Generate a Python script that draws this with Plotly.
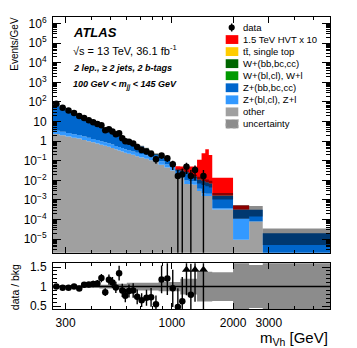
import math
import plotly.graph_objects as go

# ---------------- data ----------------
bin_edges = [260, 280, 300, 320, 340, 360, 380, 400, 420, 440, 460, 480, 500, 520, 540,
             560, 580, 600, 630, 660, 690, 730, 770, 810, 860, 920, 980, 1040, 1100,
             1150, 1210, 1270, 1330, 1400, 1460, 1520, 1580, 2000, 2400, 2800, 6000]

data_events = [1600, 1028, 737, 540, 380, 305, 231, 182, 149, 129, 72, 80, 62, 45, 51,
               28, 20, 28, 23, 15, 14, 12, 9, 6, 11, 8, 4, 1, 1, 3, 1, 2, 0, 1,
               0, 0, 0, 0, 0, 0]

# Events/GeV per bin for each background component
bkg_other = [2.3, 2.0, 1.72, 1.51, 1.36, 1.15, 1.0, 0.87, 0.76, 0.66, 0.59, 0.52, 0.45,
             0.385, 0.335, 0.295, 0.26, 0.226, 0.2, 0.172, 0.146, 0.126, 0.106, 0.089,
             0.063, 0.045, 0.032, 0.014, 0.014, 0.0065, 0.0063, 0.006, 0.0029, 0.0016,
             0.0016, 0.0016, 3.3e-4, 9.3e-6, 7.9e-5, 1e-9]
bkg_zl = [1.15, 1.0, 0.86, 0.75, 0.68, 0.57, 0.5, 0.43, 0.38, 0.33, 0.29, 0.26, 0.22,
          0.19, 0.17, 0.15, 0.13, 0.11, 0.10, 0.086, 0.073, 0.063, 0.053, 0.044, 0.032,
          0.022, 0.016, 0.007, 0.007, 0.0033, 0.0031, 0.003, 0.0008, 0.0006, 0.0005,
          0.0005, 5e-5, 1.0e-4, 1e-9, 1e-9]
bkg_zhf = [73.5, 48.1, 34.1, 23.9, 17.4, 12.4, 9.2, 7.0, 5.6, 4.19, 3.23, 2.55, 2.08,
           1.68, 1.36, 1.08, 0.89, 0.70, 0.54, 0.41, 0.31, 0.225, 0.147, 0.084, 0.058,
           0.042, 0.021, 0.0135, 0.0107, 0.017, 0.0114, 0.0068, 0.0072, 0.007, 0.0058,
           0.0048, 0.00127, 0.00022, 0.00024, 2e-5]
bkg_wl = [0.2, 0.13, 0.1, 0.07, 0.05, 0.035, 0.028, 0.021, 0.017, 0.013, 0.011, 0.009,
          0.007, 0.006, 0.005, 0.004, 0.0033, 0.0026, 0.0021, 0.0017, 0.0013, 0.001,
          0.0008, 0.0005, 0.0004, 0.0003, 0.0002, 0.0001, 0.00008, 0.00006, 0.00005,
          0.00004, 0.00003, 0.00002, 0.00002, 0.00002, 4e-6, 1e-9, 1e-9, 1e-9]
bkg_whf = [0.4, 0.27, 0.19, 0.14, 0.1, 0.07, 0.055, 0.043, 0.035, 0.027, 0.021, 0.017,
           0.014, 0.012, 0.0095, 0.0078, 0.0065, 0.0053, 0.0043, 0.0034, 0.0027, 0.0021,
           0.0016, 0.0011, 0.0008, 0.00055, 0.00035, 0.00018, 0.00016, 0.00013, 0.0001,
           0.00008, 0.00005, 0.00004, 0.00004, 0.00003, 8e-6, 1e-9, 1e-9, 1e-9]
bkg_ttbar = [2.4, 1.5, 1.0, 0.65, 0.45, 0.3, 0.21, 0.15, 0.11, 0.08, 0.058, 0.043, 0.032,
             0.025, 0.019, 0.015, 0.012, 0.009, 0.007, 0.005, 0.0037, 0.0027, 0.002,
             0.0012, 0.0008, 0.0005, 0.0003, 0.00015, 0.0001, 0.00008, 0.00006, 0.00004,
             0.00003, 0.00002, 0.00002, 0.00001, 2e-6, 1e-9, 1e-9, 1e-9]
sig_hvt_x10 = [0, 0, 0, 0, 0, 0, 0, 0, 0, 0, 0, 0, 0, 0, 0, 0, 0, 0, 0.0001, 0.0001,
               0.0002, 0.0002, 0.0003, 0.0004, 0.0005, 0.0007, 0.001, 0.017, 0.019, 0.024,
               0.03, 0.035, 0.1, 0.234, 0.377, 0.19, 0.0119, 0.00019, 0, 0]
bkg_unc_rel = [0.03] * 9 + [0.05] * 5 + [0.07] * 3 + [0.1] * 7 + [0.12] * 4 + \
              [0.2] * 4 + [0.38] * 4 + [0.37, 0.67, 0.55, 0.75]

x_tick_vals = [300, 1000, 2000, 3000]
x_tick_text = ["300", "1000", "2000", "3000"]

# ---------------- geometry helpers ----------------
W, H = 357, 348
FONT = "Liberation Sans, Arial, Helvetica, sans-serif"


def px(x):
    return x / W


def py(y):
    return 1 - y / H


nb = len(bin_edges) - 1
widths = [bin_edges[i + 1] - bin_edges[i] for i in range(nb)]
centers = [(bin_edges[i] + bin_edges[i + 1]) / 2 for i in range(nb)]

fig = go.Figure()


def step_y(vals):
    return list(vals) + [vals[-1]]


# stacked histograms (bottom -> top)
stack = [
    ("other", bkg_other, "#a0a0a0"),
    ("Z+(bl,cl), Z+l", bkg_zl, "#3399ff"),
    ("Z+(bb,bc,cc)", bkg_zhf, "#0066cc"),
    ("W+(bl,cl), W+l", bkg_wl, "#009900"),
    ("W+(bb,bc,cc)", bkg_whf, "#006600"),
    ("ttbar", bkg_ttbar, "#ffcc00"),
]
cum = [1e-9] * nb
fig.add_trace(go.Scatter(x=bin_edges, y=step_y(cum), mode="lines", line=dict(width=0, shape="hv"),
                         showlegend=False, hoverinfo="skip", xaxis="x", yaxis="y"))
for name, comp, col in stack:
    cum = [c + v for c, v in zip(cum, comp)]
    fig.add_trace(go.Scatter(x=bin_edges, y=step_y(cum), mode="lines",
                             line=dict(width=0, shape="hv", color=col),
                             fill="tonexty", fillcolor=col, name=name,
                             showlegend=False, hoverinfo="skip", xaxis="x", yaxis="y"))
total_bkg = list(cum)
cum_sig = [c + s for c, s in zip(total_bkg, sig_hvt_x10)]
fig.add_trace(go.Scatter(x=bin_edges, y=step_y(cum_sig), mode="lines",
                         line=dict(width=0, shape="hv", color="#ff0000"),
                         fill="tonexty", fillcolor="#ff0000", name="HVT",
                         showlegend=False, hoverinfo="skip", xaxis="x", yaxis="y"))

# uncertainty band (main)
band_col = "rgba(0,0,0,0.45)"
unc_lo = [max(t * (1 - u), 1e-9) for t, u in zip(total_bkg, bkg_unc_rel)]
unc_hi = [t * (1 + u) for t, u in zip(total_bkg, bkg_unc_rel)]
fig.add_trace(go.Scatter(x=bin_edges, y=step_y(unc_lo), mode="lines", line=dict(width=0, shape="hv"),
                         showlegend=False, hoverinfo="skip", xaxis="x", yaxis="y"))
fig.add_trace(go.Scatter(x=bin_edges, y=step_y(unc_hi), mode="lines", line=dict(width=0, shape="hv"),
                         fill="tonexty", fillcolor=band_col,
                         showlegend=False, hoverinfo="skip", xaxis="x", yaxis="y"))

# data points (main)
dx, dy, de_up, de_dn = [], [], [], []
for c, n, w in zip(centers, data_events, widths):
    if n > 0:
        dx.append(c)
        dy.append(n / w)
        s = math.sqrt(n)
        de_up.append(s / w)
        de_dn.append(min(s, n * (1 - 1e-6)) / w)
fig.add_trace(go.Scatter(x=dx, y=dy, mode="markers",
                         marker=dict(color="black", size=6.5),
                         error_y=dict(type="data", array=de_up, arrayminus=de_dn, symmetric=False,
                                      color="black", thickness=1.4, width=0),
                         showlegend=False, hoverinfo="skip", xaxis="x", yaxis="y"))

# ---------------- ratio panel ----------------
r_lo = [1 - u for u in bkg_unc_rel]
r_hi = [1 + u for u in bkg_unc_rel]
fig.add_trace(go.Scatter(x=bin_edges, y=step_y(r_lo), mode="lines", line=dict(width=0, shape="hv"),
                         showlegend=False, hoverinfo="skip", xaxis="x2", yaxis="y2"))
fig.add_trace(go.Scatter(x=bin_edges, y=step_y(r_hi), mode="lines", line=dict(width=0, shape="hv"),
                         fill="tonexty", fillcolor=band_col,
                         showlegend=False, hoverinfo="skip", xaxis="x2", yaxis="y2"))

RMAX = 1.6
rx, ry, re = [], [], []
tx = []
for c, n, w, t in zip(centers, data_events, widths, total_bkg):
    if n > 0:
        r = (n / w) / t
        rx.append(c)
        ry.append(r)
        re.append(r / math.sqrt(n))
        if r > RMAX:
            tx.append(c)
fig.add_trace(go.Scatter(x=rx, y=ry, mode="markers",
                         marker=dict(color="black", size=6.5),
                         error_y=dict(type="data", array=re, color="black", thickness=1.4, width=0),
                         cliponaxis=True,
                         showlegend=False, hoverinfo="skip", xaxis="x2", yaxis="y2"))
fig.add_trace(go.Scatter(x=tx, y=[1.43] * len(tx), mode="markers",
                         marker=dict(color="black", size=8, symbol="triangle-up"),
                         showlegend=False, hoverinfo="skip", xaxis="x2", yaxis="y2"))

# ---------------- axes ----------------
xl, xr = 53, 330
xrange = [math.log10(bin_edges[0]), math.log10(bin_edges[-1])]
x_minor = [400, 500, 600, 700, 800, 900, 4000, 5000]
axis_common = dict(showline=True, linecolor="black", linewidth=1, mirror="allticks",
                   ticks="inside", tickcolor="black", showgrid=False, zeroline=False)

xcommon = dict(type="log", range=xrange, domain=[px(xl), px(xr)],
               tickmode="array", tickvals=x_tick_vals, ticktext=x_tick_text, ticklen=6,
               minor=dict(tickmode="array", tickvals=x_minor, ticks="inside", ticklen=3,
                          tickcolor="black"),
               tickfont=dict(family=FONT, size=12, color="black"), **axis_common)

y_major = [10.0 ** k for k in range(-5, 7)]
y_text = []
for k in range(-5, 7):
    if k == 0:
        y_text.append("1")
    elif k == 1:
        y_text.append("10")
    else:
        y_text.append("10<sup>%s</sup>" % (str(k).replace("-", "\u2212")))
y_minor = [m * 10.0 ** k for k in range(-6, 7) for m in range(2, 10)]

fig.update_layout(
    width=W, height=H, margin=dict(l=0, r=0, t=0, b=0),
    paper_bgcolor="white", plot_bgcolor="white",
    font=dict(family=FONT, color="black"),
    showlegend=False,
    xaxis=dict(anchor="y", showticklabels=False, matches="x2", **xcommon),
    xaxis2=dict(anchor="y2", showticklabels=True, ticklabelstandoff=2, **xcommon),
    yaxis=dict(type="log", range=[-5.7, 6.35], domain=[py(255), py(14)], anchor="x",
               tickmode="array", tickvals=y_major, ticktext=y_text, ticklen=8,
               minor=dict(tickmode="array", tickvals=y_minor, ticks="inside", ticklen=4,
                          tickcolor="black"),
               tickfont=dict(family=FONT, size=12, color="black"), ticklabelstandoff=3,
               **axis_common),
    yaxis2=dict(range=[0.42, 1.6], domain=[py(312.5), py(265.5)], anchor="x2",
                tickmode="array", tickvals=[0.5, 1, 1.5], ticktext=["0.5", "1", "1.5"], ticklen=8,
                minor=dict(tickmode="linear", tick0=0, dtick=0.1, ticks="inside", ticklen=4,
                           tickcolor="black"),
                tickfont=dict(family=FONT, size=12, color="black"), ticklabelstandoff=3,
                **axis_common),
)

# ratio = 1 line
fig.add_shape(type="line", xref="paper", yref="y2", x0=px(xl), x1=px(xr), y0=1, y1=1,
              line=dict(color="black", width=1.5))

# ---------------- texts ----------------
ann = []


def text(x, y, s, size, xanchor="left", yanchor="middle", angle=0, yshift=0):
    ann.append(dict(x=px(x), y=py(y), xref="paper", yref="paper", text=s, showarrow=False,
                    xanchor=xanchor, yanchor=yanchor, textangle=angle, yshift=yshift,
                    font=dict(family=FONT, size=size, color="black")))


text(15, 12, "Events/GeV", 10, xanchor="center", yanchor="top", angle=-90)
text(15, 290, "data / bkg", 10.5, xanchor="center", yanchor="middle", angle=-90)
text(330, 339, "m<sub>Vh</sub> [GeV]", 15, xanchor="right", yshift=-3)
text(71, 30, "<b><i>ATLAS</i></b>", 13)
text(71, 48, "\u221As = 13 TeV, 36.1 fb<sup>-1</sup>", 11)
text(71, 66, "<b><i>2 lep., \u2265 2 jets, 2 b-tags</i></b>", 9)
text(71, 84, "<b><i>100 GeV &lt; m<sub>jj</sub> &lt; 145 GeV</i></b>", 9)

# legend (drawn manually)
leg_rows = [
    ("data", None),
    ("1.5 TeV HVT x 10", "#ff0000"),
    ("t\u0074\u0304, single top", "#ffcc00"),
    ("W+(bb,bc,cc)", "#006600"),
    ("W+(bl,cl), W+l", "#009900"),
    ("Z+(bb,bc,cc)", "#0066cc"),
    ("Z+(bl,cl), Z+l", "#3399ff"),
    ("other", "#a0a0a0"),
    ("uncertainty", "unc"),
]
y0, dyl = 25, 12.3
for i, (lab, col) in enumerate(leg_rows):
    yc = y0 + i * dyl
    text(241, yc, lab, 9.5)
    if col is None:
        fig.add_shape(type="line", xref="paper", yref="paper", x0=px(231.7), x1=px(231.7),
                      y0=py(yc - 4), y1=py(yc + 4), line=dict(color="black", width=1.4))
        fig.add_shape(type="circle", xref="paper", yref="paper", x0=px(228.6), x1=px(234.8),
                      y0=py(yc - 3.1), y1=py(yc + 3.1), fillcolor="black", line=dict(width=0))
    elif col == "unc":
        fig.add_shape(type="rect", xref="paper", yref="paper", x0=px(225.7), x1=px(238.3),
                      y0=py(yc - 4.5), y1=py(yc + 4.5), fillcolor="#8c8c8c",
                      line=dict(color="#bdbdbd", width=1, dash="dot"))
    else:
        fig.add_shape(type="rect", xref="paper", yref="paper", x0=px(225.7), x1=px(238.3),
                      y0=py(yc - 4.5), y1=py(yc + 4.5), fillcolor=col, line=dict(width=0))

fig.update_layout(annotations=ann)
fig.write_html("out.html", config={"displayModeBar": False, "staticPlot": True},
               post_script="document.body.style.margin='0';document.body.style.overflow='hidden';")
